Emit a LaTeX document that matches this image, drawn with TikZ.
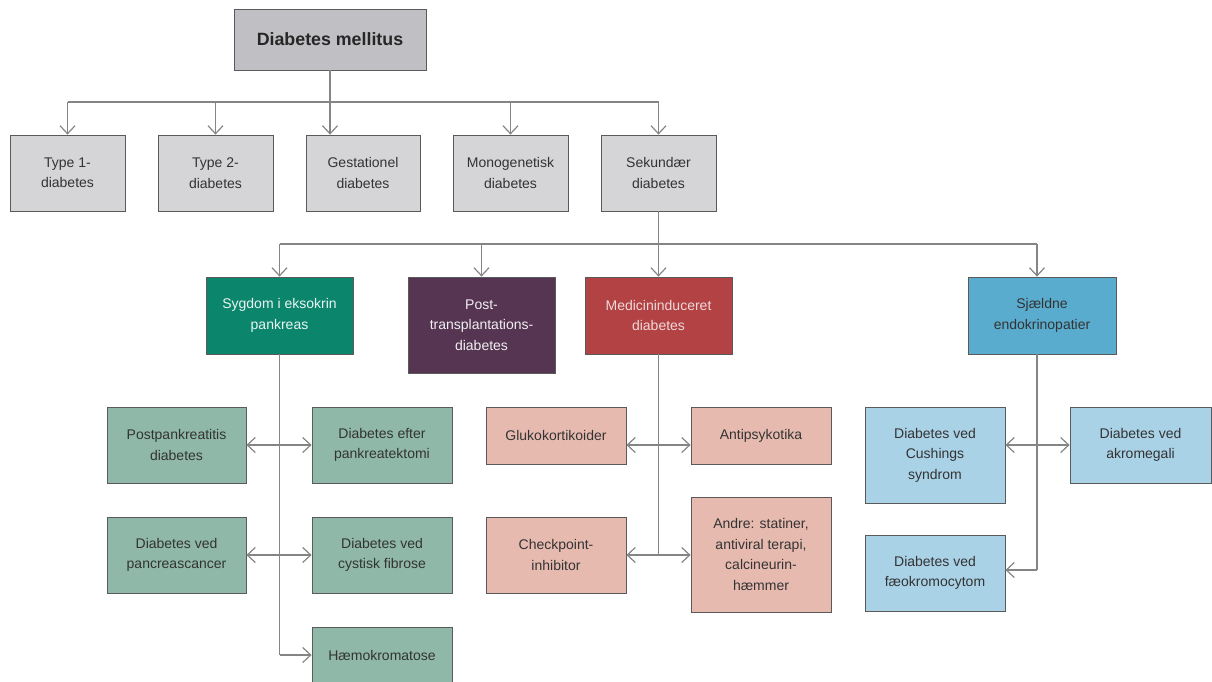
\documentclass[tikz,border=0pt]{standalone}
\usepackage{fontspec}
\setmainfont{Liberation Sans}
\usetikzlibrary{arrows.meta,calc}
\definecolor{boxline}{HTML}{5A5A5A}
\definecolor{lncol}{HTML}{858585}
\definecolor{txt}{HTML}{333333}
\definecolor{dmfill}{HTML}{C0C0C4}
\definecolor{grayfill}{HTML}{D5D5D7}
\definecolor{teal}{HTML}{0B866C}
\definecolor{plum}{HTML}{553552}
\definecolor{brick}{HTML}{B24243}
\definecolor{sky}{HTML}{5AACCE}
\definecolor{sage}{HTML}{8FB8A8}
\definecolor{blush}{HTML}{E7BAB0}
\definecolor{pale}{HTML}{A9D2E7}
\tikzset{
  box/.style={draw=boxline, line width=0.8pt, align=center, inner sep=2pt,
    font=\fontsize{14}{20.5}\selectfont, text=txt},
  ln/.style={draw=lncol, line width=1.2pt},
  arr/.style={ln, -{Straight Barb[length=8pt,width=15pt]}},
  darr/.style={ln, {Straight Barb[length=8pt,width=15pt]}-{Straight Barb[length=8pt,width=15pt]}},
}
\begin{document}
\begin{tikzpicture}[x=1pt,y=-1pt]
\useasboundingbox (0,0) rectangle (1212,682);
\clip (0,0) rectangle (1212,682);
% top
\node[box, fill=dmfill, minimum width=192, minimum height=61, font=\bfseries\fontsize{17.8}{21}\selectfont, text=black!85] (dm) at (330,39.5) {Diabetes mellitus};
% row 1
\node[box, fill=grayfill, minimum width=115, minimum height=76] (t1) at (67.5,173) {Type 1-\\diabetes};
\node[box, fill=grayfill, minimum width=115, minimum height=76] (t2) at (215.5,173) {Type 2-\\diabetes};
\node[box, fill=grayfill, minimum width=114, minimum height=76] (ge) at (363,173) {Gestationel\\diabetes};
\node[box, fill=grayfill, minimum width=115, minimum height=76] (mo) at (510.5,173) {Monogenetisk\\diabetes};
\node[box, fill=grayfill, minimum width=115, minimum height=76] (se) at (658.5,173) {Sekundær\\diabetes};
% row 2
\node[box, fill=teal, minimum width=147, minimum height=77, text=white!92!teal] (sy) at (279.5,315.5) {Sygdom i eksokrin\\pankreas};
\node[box, fill=plum, minimum width=147, minimum height=96, text=white!92!plum] (po) at (481.5,325) {Post-\\transplantations-\\diabetes};
\node[box, fill=brick, minimum width=147, minimum height=77, text=white!80!brick] (me) at (658.5,315.5) {Medicininduceret\\diabetes};
\node[box, fill=sky, minimum width=148, minimum height=77, text=txt] (sj) at (1042,315.5) {Sjældne\\endokrinopatier};
% exocrine pancreas
\node[box, fill=sage, minimum width=139, minimum height=76] (pp) at (176.5,445) {Postpankreatitis\\diabetes};
\node[box, fill=sage, minimum width=140, minimum height=76] (pe) at (382,445) {Diabetes efter\\pankreatektomi};
\node[box, fill=sage, minimum width=139, minimum height=76] (pc) at (176.5,555) {Diabetes ved\\pancreascancer};
\node[box, fill=sage, minimum width=140, minimum height=76] (cf) at (382,555) {Diabetes ved\\cystisk fibrose};
\node[box, fill=sage, minimum width=140, minimum height=63] (ha) at (382,658.5) {};
\node[font=\fontsize{14}{20.5}\selectfont, text=txt] (hat) at (382,655) {Hæmokromatose};
% drug induced
\node[box, fill=blush, minimum width=140, minimum height=57] (gl) at (556,435.5) {Glukokortikoider};
\node[box, fill=blush, minimum width=140, minimum height=57] (an) at (761,435.5) {Antipsykotika};
\node[box, fill=blush, minimum width=140, minimum height=76] (ch) at (556,555) {Checkpoint-\\inhibitor};
\node[box, fill=blush, minimum width=140, minimum height=115] (ad) at (761,554.5) {Andre: statiner,\\antiviral terapi,\\calcineurin-\\hæmmer};
% rare endocrinopathies
\node[box, fill=pale, minimum width=140, minimum height=96] (cu) at (935,455) {Diabetes ved\\Cushings\\syndrom};
\node[box, fill=pale, minimum width=141, minimum height=76] (ak) at (1140.5,445) {Diabetes ved\\akromegali};
\node[box, fill=pale, minimum width=140, minimum height=76] (fa) at (935,573) {Diabetes ved\\fæokromocytom};

% connectors top
\coordinate (j1) at (330,102);
\draw[ln] (dm.south) -- (j1);
\draw[ln] (t1.north |- j1) -- (se.north |- j1);
\draw[arr] (t1.north |- j1) -- (t1.north);
\draw[arr] (t2.north |- j1) -- (t2.north);
\draw[arr] (j1) -- (j1 |- ge.north);
\draw[arr] (mo.north |- j1) -- (mo.north);
\draw[arr] (se.north |- j1) -- (se.north);
% secondary
\coordinate (j2) at (658.5,244);
\coordinate (sjx) at (1037,244);
\draw[ln] (se.south) -- (j2);
\draw[ln] (sy.north |- j2) -- (sjx);
\draw[arr] (sy.north |- j2) -- (sy.north);
\draw[arr] (po.north |- j2) -- (po.north);
\draw[arr] (j2) -- (me.north);
\draw[arr] (sjx) -- (sjx |- sj.north);
% exocrine trunk
\coordinate (sb) at (279.5,655);
\draw[ln] (sy.south) -- (sb);
\draw[arr] (sb) -- (sb -| ha.west);
\draw[darr] (pp.east) -- (pe.west);
\draw[darr] (pc.east) -- (cf.west);
% drug trunk
\coordinate (ma) at (658.5,445);
\coordinate (mb) at (658.5,555);
\draw[ln] (me.south) -- (mb);
\draw[darr] (ma -| gl.east) -- (ma -| an.west);
\draw[darr] (ch.east) -- (mb -| ad.west);
% rare trunk
\coordinate (sa) at (1037,445);
\coordinate (sc) at (1037,570);
\draw[ln] (sjx |- sj.south) -- (sc);
\draw[darr] (sa -| cu.east) -- (sa -| ak.west);
\draw[arr] (sc) -- (sc -| fa.east);
\end{tikzpicture}
\end{document}
